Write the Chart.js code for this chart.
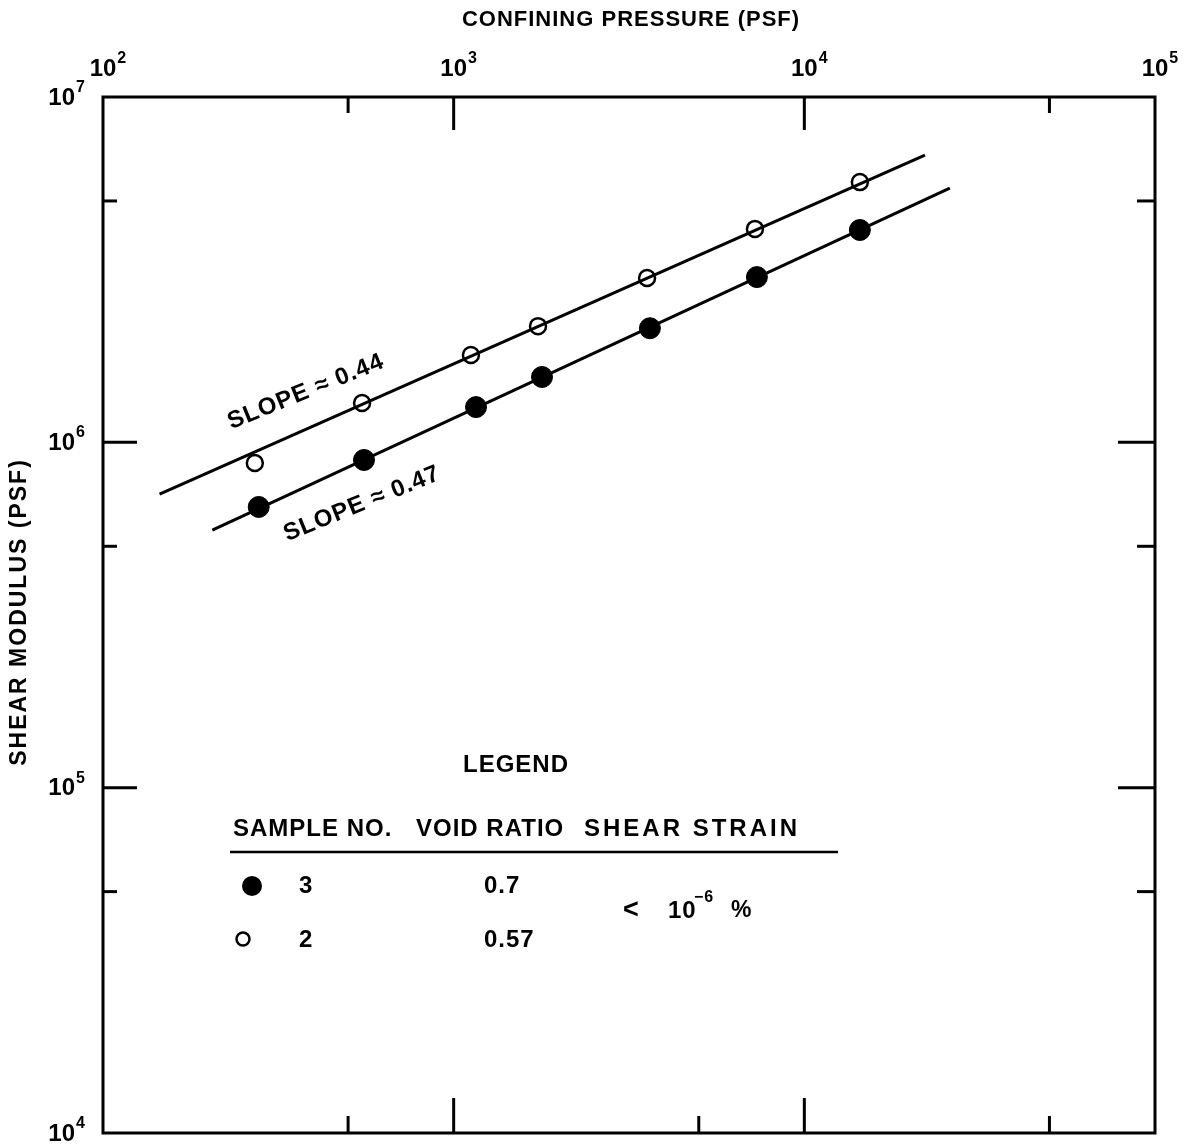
<!DOCTYPE html>
<html>
<head>
<meta charset="utf-8">
<script src="https://cdn.jsdelivr.net/npm/chart.js@4/dist/chart.umd.min.js"></script>
<style>
  html, body { margin: 0; padding: 0; background: #fff; }
  #chart-modulus { display: block; }
</style>
</head>
<body>
<canvas id="chart-modulus" width="1191" height="1148"></canvas>
<script>
// sample 2 (open circles), void ratio 0.57
const pressure_2 = [271, 548, 1120, 1740, 3560, 7230, 14400];
const modulus_2 = [871000, 1300000, 1790000, 2170000, 2990000, 4150000, 5670000];

// sample 3 (filled circles), void ratio 0.7
const pressure_3 = [278, 555, 1158, 1786, 3628, 7324, 14400];
const modulus_3 = [650000, 889000, 1265000, 1546000, 2140000, 3010000, 4120000];

// fitted lines, end points
const fit_x_2 = [145, 22080];
const fit_y_2 = [708000, 6790000];
const fit_x_3 = [205, 26000];
const fit_y_3 = [557000, 5450000];

// axis decades and exponents for the labels
const x_decades = [1e2, 1e3, 1e4, 1e5];
const x_exponents = ['2', '3', '4', '5'];
const y_decades = [1e4, 1e5, 1e6, 1e7];
const y_exponents = ['4', '5', '6', '7'];

// tick marks inside the frame
const x_major = [1e3, 1e4];
const x_minor_top = [500, 50000];
const x_minor_bottom = [500, 5000, 50000];
const y_major = [1e5, 1e6];
const y_minor = [5e4, 5e5, 5e6];

const FONT = '"Liberation Sans", Arial, sans-serif';

function pairs(xs, ys) {
    return xs.map((x, i) => ({ x: x, y: ys[i] }));
}

function font(size) {
    return 'bold ' + size + 'px ' + FONT;
}

// "10" with a raised exponent, centred on x (or right aligned when align = 'right')
function powerLabel(ctx, base, exp, x, y, size, align) {
    ctx.font = font(size);
    const w = ctx.measureText(base).width;
    let left = align === 'right' ? x - w : x - w / 2;
    ctx.textAlign = 'left';
    ctx.textBaseline = 'middle';
    ctx.fillText(base, left, y);
    ctx.font = font(16);
    ctx.textBaseline = 'alphabetic';
    ctx.fillText(exp, left + w + 1, y - 6);
}

const frame_plugin = {
    id: 'frame',
    afterDraw(chart) {
        const ctx = chart.ctx;
        const a = chart.chartArea;
        const xs = chart.scales.x;
        const ys = chart.scales.y;
        ctx.save();
        ctx.strokeStyle = '#000';
        ctx.fillStyle = '#000';
        ctx.lineWidth = 3;
        ctx.lineCap = 'butt';
        ctx.strokeRect(a.left, a.top, a.right - a.left, a.bottom - a.top);

        const vtick = (v, y0, len) => {
            const px = xs.getPixelForValue(v);
            ctx.beginPath();
            ctx.moveTo(px, y0);
            ctx.lineTo(px, y0 + len);
            ctx.stroke();
        };
        const htick = (v, x0, len) => {
            const py = ys.getPixelForValue(v);
            ctx.beginPath();
            ctx.moveTo(x0, py);
            ctx.lineTo(x0 + len, py);
            ctx.stroke();
        };
        x_major.forEach(v => { vtick(v, a.top, 33); vtick(v, a.bottom, -35); });
        x_minor_top.forEach(v => vtick(v, a.top, 16));
        x_minor_bottom.forEach(v => vtick(v, a.bottom, -17));
        y_major.forEach(v => { htick(v, a.left, 34); htick(v, a.right, -37); });
        y_minor.forEach(v => { htick(v, a.left, 14); htick(v, a.right, -18); });

        // tick labels
        x_decades.forEach((v, i) => {
            powerLabel(ctx, '10', x_exponents[i], xs.getPixelForValue(v), a.top - 28, 24, 'center');
        });
        y_decades.forEach((v, i) => {
            powerLabel(ctx, '10', y_exponents[i], a.left - 28, ys.getPixelForValue(v) + 1, 24, 'right');
        });

        // axis titles
        ctx.font = font(22);
        ctx.letterSpacing = '1px';
        ctx.textAlign = 'center';
        ctx.textBaseline = 'middle';
        ctx.fillText('CONFINING PRESSURE (PSF)', (a.left + a.right) / 2 + 2, 20);
        ctx.save();
        ctx.translate(20, 612);
        ctx.rotate(-Math.PI / 2);
        ctx.font = font(23);
        ctx.letterSpacing = '2px';
        ctx.fillText('SHEAR MODULUS (PSF)', 0, 0);
        ctx.restore();

        // slope notes along the fitted lines
        const note = (text, cx, cy) => {
            ctx.save();
            ctx.translate(cx, cy);
            ctx.rotate(-22 * Math.PI / 180);
            ctx.font = font(24);
            ctx.letterSpacing = '1px';
            ctx.textAlign = 'center';
            ctx.textBaseline = 'middle';
            ctx.fillText(text, 0, 0);
            ctx.restore();
        };
        note('SLOPE \u2248 0.44', 306, 392);
        note('SLOPE \u2248 0.47', 362, 504);

        // legend table
        ctx.font = font(24);
        ctx.letterSpacing = '1px';
        ctx.textAlign = 'center';
        ctx.fillText('LEGEND', 516, 765);
        ctx.textAlign = 'left';
        ctx.fillText('SAMPLE NO.', 233, 829);
        ctx.fillText('VOID RATIO', 416, 829);
        ctx.letterSpacing = '3px';
        ctx.fillText('SHEAR STRAIN', 584, 829);
        ctx.letterSpacing = '1px';
        ctx.lineWidth = 2.5;
        ctx.beginPath();
        ctx.moveTo(230, 852);
        ctx.lineTo(838, 852);
        ctx.stroke();

        ctx.beginPath();
        ctx.arc(252, 886, 10, 0, Math.PI * 2);
        ctx.fill();
        ctx.beginPath();
        ctx.arc(243, 939, 6.5, 0, Math.PI * 2);
        ctx.stroke();

        ctx.fillText('3', 299, 886);
        ctx.fillText('2', 299, 940);
        ctx.fillText('0.7', 484, 886);
        ctx.fillText('0.57', 484, 940);

        ctx.font = font(27);
        ctx.fillText('<', 623, 911);
        ctx.font = font(24);
        ctx.fillText('10', 668, 911);
        ctx.font = font(16);
        ctx.textBaseline = 'alphabetic';
        ctx.fillText('\u22126', 694, 902);
        ctx.font = font(23);
        ctx.textBaseline = 'middle';
        ctx.fillText('%', 731, 911);
        ctx.restore();
    }
};

const data_modulus = {
    datasets: [{
        label: 'Fit 2',
        data: pairs(fit_x_2, fit_y_2),
        showLine: true,
        borderColor: '#000',
        borderWidth: 3,
        pointRadius: 0,
    },
    {
        label: 'Fit 3',
        data: pairs(fit_x_3, fit_y_3),
        showLine: true,
        borderColor: '#000',
        borderWidth: 3,
        pointRadius: 0,
    },
    {
        label: 'Sample 2',
        data: pairs(pressure_2, modulus_2),
        pointStyle: 'circle',
        pointRadius: 8,
        pointBorderWidth: 2.5,
        pointBackgroundColor: '#fff',
        pointBorderColor: '#000',
    },
    {
        label: 'Sample 3',
        data: pairs(pressure_3, modulus_3),
        pointStyle: 'circle',
        pointRadius: 10.5,
        pointBorderWidth: 1,
        pointBackgroundColor: '#000',
        pointBorderColor: '#000',
    }]
};

const config_modulus = {
    type: 'scatter',
    data: data_modulus,
    options: {
        responsive: false,
        animation: false,
        layout: {
            padding: { left: 103, top: 97, right: 36, bottom: 15 }
        },
        scales: {
            x: { type: 'logarithmic', min: 1e2, max: 1e5, display: false },
            y: { type: 'logarithmic', min: 1e4, max: 1e7, display: false }
        },
        plugins: {
            legend: { display: false },
            tooltip: { enabled: false }
        }
    },
    plugins: [frame_plugin]
};

var chart_modulus = new Chart(
    document.getElementById('chart-modulus'),
    config_modulus
);
</script>
</body>
</html>
